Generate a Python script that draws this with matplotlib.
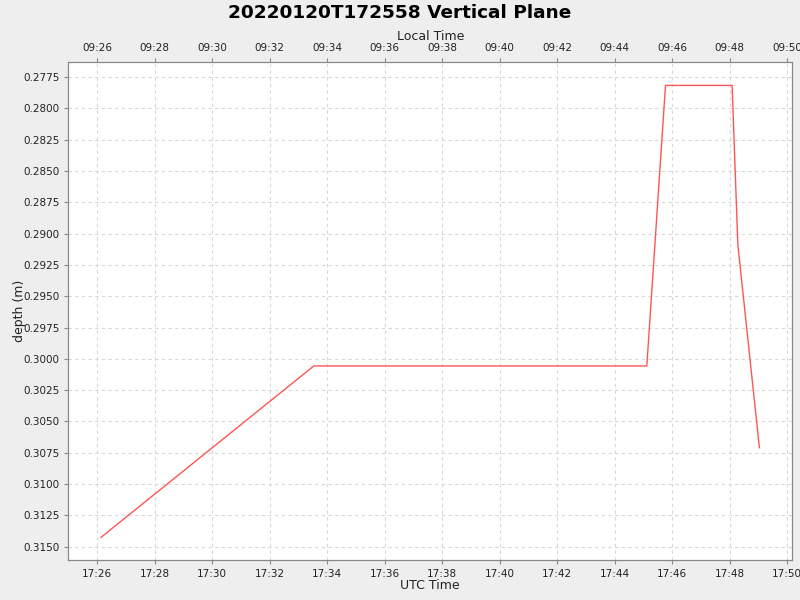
import matplotlib
matplotlib.use("Agg")
import matplotlib.pyplot as plt
import matplotlib.dates as mdates
from datetime import datetime, timedelta, timezone

# glider vertical plane: utc time vs depth
times = ["17:26:08", "17:33:32", "17:45:07", "17:45:46", "17:48:05", "17:48:17", "17:49:02"]
depths = [0.31425, 0.30057, 0.30057, 0.27817, 0.27817, 0.2909, 0.3071]

depth_ticks = [0.2775, 0.2800, 0.2825, 0.2850, 0.2875, 0.2900, 0.2925, 0.2950,
               0.2975, 0.3000, 0.3025, 0.3050, 0.3075, 0.3100, 0.3125, 0.3150]
x_start = "17:25:00"
x_end = "17:50:10"
y_limits = (0.2763, 0.31606)
local_offset_hours = -8

def to_dt(s):
    return datetime.strptime("2022-01-20 " + s, "%Y-%m-%d %H:%M:%S").replace(tzinfo=timezone.utc)

x = [to_dt(t) for t in times]

fig = plt.figure(figsize=(8, 6), dpi=100, facecolor="#eeeeee")
ax = fig.add_axes([0.0856, 0.0667, 0.9044, 0.83])
ax.set_facecolor("white")
ax.plot(x, depths, color="#ff5555", linewidth=1.0)

ax.set_xlim(to_dt(x_start), to_dt(x_end))
ax.set_ylim(y_limits[1], y_limits[0])
ax.set_yticks(depth_ticks)
ax.yaxis.set_major_formatter(matplotlib.ticker.FormatStrFormatter("%.4f"))

loc = mdates.MinuteLocator(byminute=range(0, 60, 2))
ax.xaxis.set_major_locator(loc)
ax.xaxis.set_major_formatter(mdates.DateFormatter("%H:%M", tz=timezone.utc))

ax.grid(True, color="#d8d8d8", linestyle=(0, (3, 3)), linewidth=0.8)
ax.set_axisbelow(True)
for sp in ax.spines.values():
    sp.set_color("#888888")
ax.tick_params(labelsize=7.5, length=3, color="#888888", labelcolor="#222222")
ax.set_xlabel("UTC Time", fontsize=9, color="#222222", labelpad=0)
ax.set_ylabel("depth (m)", fontsize=9, color="#222222", labelpad=-2)

ax2 = ax.twiny()
ax2.set_xlim(ax.get_xlim())
ax2.xaxis.set_major_locator(mdates.MinuteLocator(byminute=range(0, 60, 2)))
ax2.xaxis.set_major_formatter(mdates.DateFormatter("%H:%M", tz=timezone(timedelta(hours=local_offset_hours))))
ax2.tick_params(labelsize=7.5, length=3, color="#888888", labelcolor="#222222")
for sp in ax2.spines.values():
    sp.set_color("#888888")
ax2.set_xlabel("Local Time", fontsize=9, color="#222222", labelpad=2)

fig.suptitle("20220120T172558 Vertical Plane", fontsize=13.3, fontweight="bold", y=0.993)

plt.savefig("out.png", dpi=100, facecolor=fig.get_facecolor())
